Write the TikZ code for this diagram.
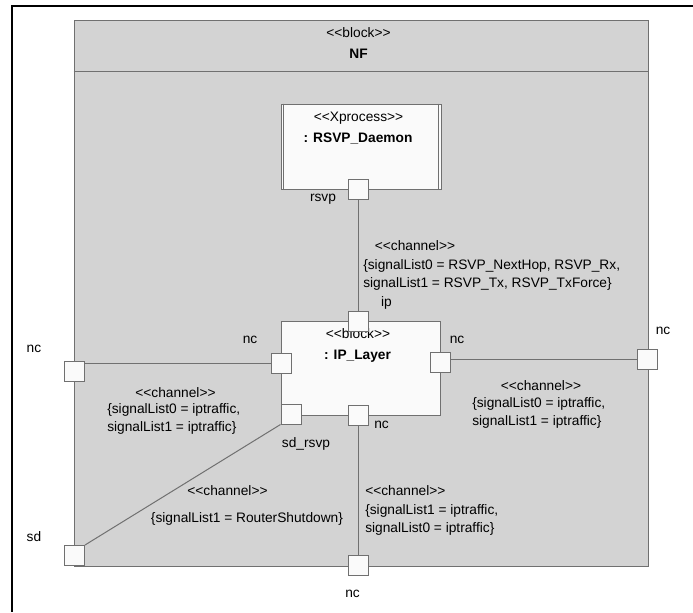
\documentclass[tikz,border=0pt]{standalone}
\usepackage{fontspec}
\setmainfont{Liberation Sans}
\definecolor{frame}{HTML}{707070}
\definecolor{paper}{HTML}{D3D3D3}
\definecolor{portfill}{HTML}{FAFAFA}
\newcommand{\stereo}[1]{<{}<#1>{}>}

\begin{document}
\begin{tikzpicture}[x=0.75pt,y=-0.75pt,inner sep=0pt,font=\fontsize{10.3}{13.5}\selectfont,
  port/.style={draw=frame,fill=portfill,line width=0.75pt,minimum size=15pt},
  part/.style={draw=frame,fill=portfill,line width=0.75pt},
  wire/.style={draw=frame,line width=0.75pt},
  title/.style={font=\fontsize{10.3}{13.5}\selectfont\bfseries}]
  \useasboundingbox (0,0) rectangle (693,612);
  \draw[line width=1.5pt] (693,6) -- (12,6) -- (12,612);
  % block NF
  \node[part,fill=paper,minimum width=430.5pt,minimum height=409.5pt] (nf) at (361,293) {};
  \draw[wire] (nf.west |- 0,71) -- (nf.east |- 0,71);
  \node (nfst) at (358.5,33) {\stereo{block}};
  \node[title] (nfname) at (358.5,54) {NF};
  % parts
  \node[part,minimum width=120pt,minimum height=63.75pt] (daemon) at (361,146.5) {};
  \draw[wire] ([xshift=2pt]daemon.north west) -- ([xshift=2pt]daemon.south west)
    ([xshift=-2pt]daemon.north east) -- ([xshift=-2pt]daemon.south east);
  \node (dst) at (358.5,118) {\stereo{Xprocess}};
  \node[title] (dname) at (358,139) {: RSVP\_Daemon};
  \node[part,minimum width=119.6pt,minimum height=70.5pt] (iplayer) at (360.75,368) {};
  \node (ipst) at (358,334) {\stereo{block}};
  \node[title] (ipname) at (357.5,356) {: IP\_Layer};
  % ports
  \node[port] (rsvp) at (358.5,189) {};
  \node[port] (ip) at (358.5,321.5) {};
  \node[port] (ipl) at (281,363) {};
  \node[port] (ipr) at (440.5,362) {};
  \node[port] (ipb) at (358.5,415) {};
  \node[port] (sdr) at (291,414) {};
  \node[port] (nfl) at (74.5,371.5) {};
  \node[port] (nfr) at (647,359.5) {};
  \node[port] (nfb) at (358.5,565.5) {};
  \node[port] (sd) at (74.5,555.5) {};
  \node (lrsvp) at (323,199) {rsvp};
  \node (lip) at (386.5,302.5) {ip};
  \node (lipl) at (250,340) {nc};
  \node (lipr) at (457,340) {nc};
  \node (lnfl) at (34,349) {nc};
  \node (lnfr) at (663,331) {nc};
  \node (lsdr) at (306,444) {sd\_rsvp};
  \node (lipb) at (381.5,425) {nc};
  \node (lnfb) at (352.5,594) {nc};
  \node (lsd) at (34,537) {sd};
  % channels
  \draw[wire] (rsvp) -- (ip);
  \draw[wire] (ipl.west) -- (ipl.west -| nfl.east);
  \draw[wire] (nfr.west) -- (nfr.west -| ipr.east);
  \draw[wire] (ipb) -- (nfb);
  \draw[wire] (sd.north east) -- (sdr.south west);
  \node (c1st) at (415,246) {\stereo{channel}};
  \node[anchor=west,align=left] (c1) at (363,275) {\{signalList0 = RSVP\_NextHop, RSVP\_Rx,\\signalList1 = RSVP\_Tx, RSVP\_TxForce\}};
  \node (c2st) at (175.5,392.5) {\stereo{channel}};
  \node[anchor=west,align=left] (c2) at (107,419) {\{signalList0 = iptraffic,\\signalList1 = iptraffic\}};
  \node (c3st) at (541,386) {\stereo{channel}};
  \node[anchor=west,align=left] (c3) at (472,413) {\{signalList0 = iptraffic,\\signalList1 = iptraffic\}};
  \node[anchor=west] (c4st) at (365,491) {\stereo{channel}};
  \node[anchor=west,align=left] (c4) at (365,519.5) {\{signalList1 = iptraffic,\\signalList0 = iptraffic\}};
  \node (c5st) at (227.5,491) {\stereo{channel}};
  \node (c5) at (247,519) {\{signalList1 = RouterShutdown\}};
\end{tikzpicture}
\end{document}
